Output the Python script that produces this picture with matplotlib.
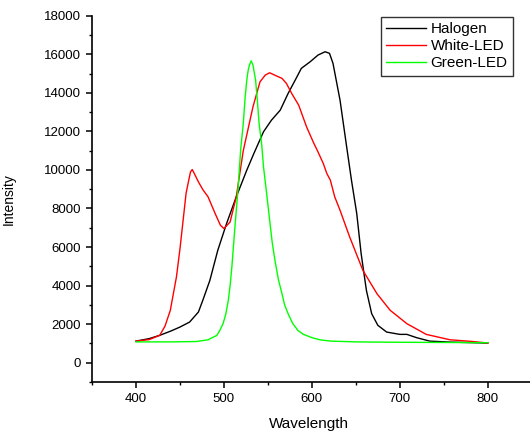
import matplotlib
matplotlib.use('Agg')
import matplotlib.pyplot as plt
from matplotlib.ticker import MultipleLocator

plt.rcParams['font.family'] = ['Liberation Sans', 'DejaVu Sans']

# --- Daten ---
halogen_x = [400, 415, 427, 440, 450, 461, 471, 476, 484, 493, 503, 514, 526, 534, 545,
             554, 564, 573, 583, 588, 598, 607, 615, 620, 624, 632, 639, 645, 651, 656,
             662, 668, 675, 685, 700, 708, 719, 734, 757, 800]
halogen_y = [1120, 1250, 1420, 1650, 1850, 2110, 2630, 3240, 4270, 5830, 7220, 8600, 9990,
             10850, 11980, 12580, 13100, 13970, 14830, 15270, 15610, 15960, 16130, 16050,
             15530, 13620, 11370, 9470, 7740, 5660, 3750, 2540, 1940, 1590, 1470, 1470,
             1300, 1120, 1070, 1020]

white_x = [400, 415, 427, 433, 439, 446, 450, 454, 457, 460, 462, 464, 467, 471, 476, 482,
           490, 496, 500, 507, 514, 522, 533, 541, 547, 552, 560, 566, 571, 577, 585, 594,
           602, 606, 613, 617, 621, 626, 632, 643, 658, 674, 689, 708, 730, 757, 783, 800]
white_y = [1120, 1200, 1420, 1900, 2710, 4450, 5900, 7560, 8800, 9470, 9900, 10020, 9750,
           9380, 8980, 8600, 7740, 7130, 6960, 7300, 8600, 11000, 13270, 14570, 14920, 15040,
           14870, 14750, 14490, 13970, 13360, 12230, 11400, 11030, 10330, 9815, 9470, 8600,
           7910, 6520, 4790, 3580, 2720, 2025, 1470, 1190, 1100, 1020]

green_x = [400, 440, 469, 482, 492, 495, 499, 502, 505, 507, 509, 512.5, 516, 519, 522, 524,
           526, 527.5, 529, 531, 533, 536, 538, 540, 543, 545, 549, 552, 555, 558, 562, 566,
           569, 573, 578, 584, 590, 600, 610, 622, 650, 700, 750, 800]
green_y = [1080, 1080, 1100, 1190, 1420, 1650, 2025, 2500, 3240, 4000, 4960, 7040, 9000,
           11030, 12410, 13700, 14660, 15150, 15440, 15660, 15440, 14660, 13600, 12410,
           11300, 10160, 8600, 7390, 6200, 5310, 4300, 3580, 3000, 2540, 2050, 1680, 1480,
           1300, 1180, 1120, 1080, 1060, 1050, 1040]

fig = plt.figure(figsize=(5.30, 4.33), dpi=100)
ax = fig.add_axes([0.1736, 0.1178, 0.8264, 0.8459])

ax.plot(halogen_x, halogen_y, color='black', lw=1.0, label='Halogen')
ax.plot(white_x, white_y, color='red', lw=1.0, label='White-LED')
ax.plot(green_x, green_y, color='#00ff00', lw=1.0, label='Green-LED')

ax.set_xlim(350, 848)
ax.set_ylim(-1000, 18000)

ax.xaxis.set_major_locator(MultipleLocator(100))
ax.xaxis.set_minor_locator(MultipleLocator(50))
ax.yaxis.set_major_locator(MultipleLocator(2000))
ax.yaxis.set_minor_locator(MultipleLocator(1000))

for s in ['top', 'right']:
    ax.spines[s].set_visible(False)
for s in ['left', 'bottom']:
    ax.spines[s].set_linewidth(1.2)

ax.tick_params(which='major', direction='out', length=4.5, width=1.1, labelsize=9.5, colors='black')
ax.tick_params(which='minor', direction='out', length=2.5, width=1.0)

ax.set_xlabel('Wavelength', fontsize=11)
ax.set_ylabel('Intensity', fontsize=10)
ax.xaxis.set_label_coords(0.495, -0.095)
ax.yaxis.set_label_coords(-0.175, 0.5)

leg = ax.legend(loc='upper right', bbox_to_anchor=(0.961, 0.997), fontsize=11,
                frameon=True, fancybox=False, handlelength=2.6, handletextpad=0.3,
                borderpad=0.35, labelspacing=0.2, borderaxespad=0)
leg.get_frame().set_edgecolor('black')
leg.get_frame().set_linewidth(1.0)

fig.savefig('out.png', dpi=100)
